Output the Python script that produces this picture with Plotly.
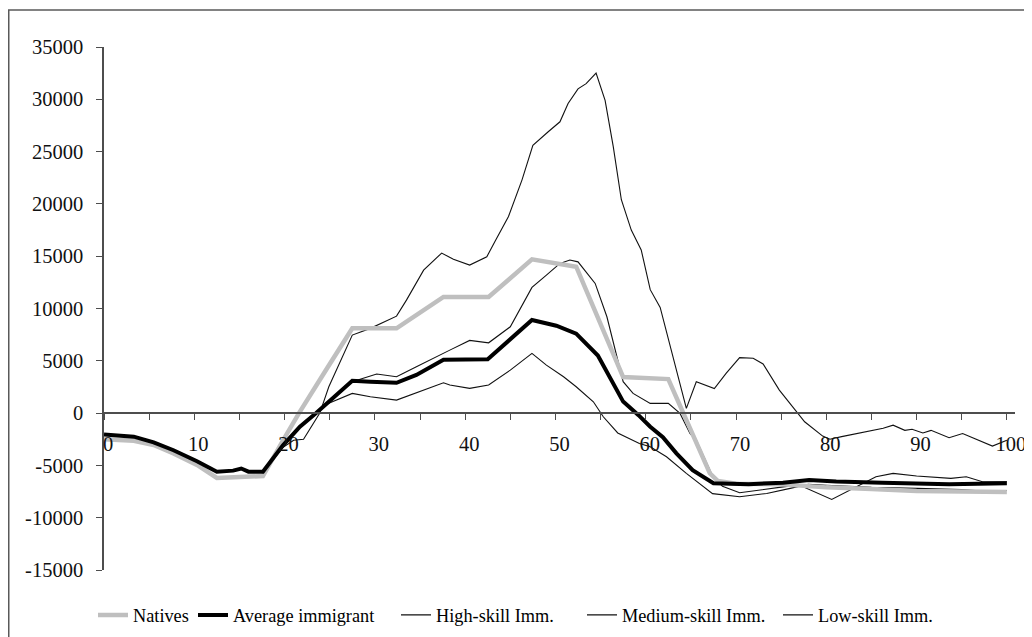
import plotly.graph_objects as go

# ---- data ----
x_child = [0, 3.3, 5.5, 7.7, 10.3, 12.5, 14.3, 15.2, 16, 17.6]
y_child = [-2050, -2250, -2800, -3550, -4600, -5600, -5500, -5300, -5600, -5600]

x_natives = [0, 3.3, 5.5, 7.7, 10.3, 12.5, 15, 17.6, 19.9, 21.6, 24.5, 27.5, 32.4, 37.6,
             42.6, 47.4, 52.3, 57.5, 62.5, 67.1, 68, 70, 75, 80, 85, 90, 95, 100]
y_natives = [-2500, -2650, -3050, -3850, -4950, -6200, -6100, -6020, -2500, 0, 4000, 8100,
             8100, 11100, 11100, 14700, 14000, 3450, 3250, -5750, -6500, -6750, -6800,
             -7100, -7250, -7450, -7500, -7550]

x_avg_tail = [19.8, 21.7, 23.5, 25.5, 27.5, 29.5, 32.4, 34.6, 37.6, 42.5, 47.4, 50.1, 52.3,
              54.7, 56.0, 57.5, 59.2, 60.5, 61.9, 63.4, 65.2, 66.7, 67.5, 71.4, 75.2, 78.1,
              81.1, 86.2, 93.6, 100]
y_avg_tail = [-3100, -1300, 0, 1500, 3100, 3000, 2900, 3650, 5100, 5150, 8900, 8350, 7600,
              5500, 3500, 1100, -200, -1300, -2300, -3850, -5450, -6250, -6700, -6800,
              -6650, -6400, -6550, -6650, -6800, -6700]

x_high_tail = [19.8, 21.0, 22.1, 23.9, 24.9, 27.5, 29.5, 31.3, 32.4, 33.5, 35.4, 37.4, 38.7,
               40.5, 42.4, 43.3, 44.8, 46.3, 47.5, 49.2, 50.5, 51.4, 52.5, 53.4, 54.5, 55.5,
               56.4, 57.3, 58.4, 59.5, 60.5, 61.6, 64.5, 65.6, 67.6, 68.9, 70.4, 71.9, 73.0,
               74.8, 76.7, 77.6, 79.6, 80.4, 81.7, 83.5, 85.0, 86.3, 87.4, 88.7, 89.5, 90.7,
               91.6, 93.6, 95.1, 96.6, 98.4, 100]
y_high_tail = [-3300, -2600, -2500, 0, 2520, 7460, 8100, 8830, 9270, 10800, 13670, 15300,
               14700, 14150, 14950, 16400, 18800, 22300, 25600, 26900, 27850, 29600, 31000,
               31500, 32500, 29900, 25500, 20400, 17500, 15600, 11800, 10100, 450, 3000,
               2350, 3800, 5300, 5250, 4700, 2200, 130, -830, -2200, -2500, -2250, -1950,
               -1650, -1450, -1150, -1650, -1550, -1900, -1650, -2350, -1950, -2500, -3150,
               -2600]

x_medium_tail = [19.8, 21.7, 23.5, 25.5, 27.5, 30.2, 32.4, 34.6, 37.6, 38.3, 40.5, 42.6, 45.0,
                 47.4, 49.0, 50.5, 51.6, 52.5, 54.4, 55.7, 57.5, 58.6, 60.5, 62.5, 63.8, 64.9,
                 65.6, 67.4, 68.5, 70.4, 75.2, 77.0, 80.6, 83.7, 85.5, 87.4, 90.0, 93.8, 95.5,
                 97.3, 100]
y_medium_tail = [-3100, -1300, 0, 1500, 3000, 3730, 3470, 4430, 5770, 6020, 6950, 6720, 8250,
                 12020, 13190, 14310, 14630, 14460, 12400, 9210, 3000, 1880, 930, 930, -30,
                 -1940, -2580, -6000, -7000, -7620, -7050, -6880, -8250, -6880, -6090, -5760,
                 -6020, -6240, -6090, -6570, -6570]

x_low_tail = [19.8, 21.7, 23.5, 24.9, 27.5, 29.5, 32.4, 35.0, 37.6, 38.3, 40.5, 42.6, 45.0,
              47.4, 49.0, 50.9, 52.3, 54.2, 55.3, 56.9, 59.3, 60.5, 62.3, 64.5, 67.4, 70.4,
              73.4, 76.0, 78.0, 80.0, 85.0, 90.0, 95.0, 98.0, 100]
y_low_tail = [-3100, -1300, 0, 950, 1880, 1560, 1240, 2040, 2900, 2680, 2360, 2680, 4110,
              5710, 4590, 3470, 2520, 1080, -350, -1900, -2900, -3220, -4180, -5760, -7700,
              -8000, -7680, -7200, -6800, -6900, -7100, -7200, -7300, -7500, -7400]

series_names = ["Natives", "Average immigrant", "High-skill Imm.", "Medium-skill Imm.",
                "Low-skill Imm."]

x_tickvals = list(range(0, 101, 5))
x_ticktext = ["0", "", "10", "", "20", "", "30", "", "40", "", "50", "", "60", "", "70", "",
              "80", "", "90", "", "100"]
y_tickvals = [35000, 30000, 25000, 20000, 15000, 10000, 5000, 0, -5000, -10000, -15000]
y_ticktext = ["35000", "30000", "25000", "20000", "15000", "10000", "5000", "0", "-5000",
              "-10000", "-15000"]

# ---- layout geometry (the page puts the figure 8 px in from the top-left) ----
OFF = 8
W, H = 1032 - OFF, 637 - OFF
ML, MT = 104 - OFF, 47 - OFF
MR = W - (1015 - OFF)
MB = H - (570 - OFF)
PW, PH = W - ML - MR, H - MT - MB


def px_x(px):
    return (px - OFF - ML) / PW


def px_y(py):
    return (H + OFF - MB - py) / PH


FONT = "Liberation Serif, Times New Roman, serif"

fig = go.Figure()

thin = dict(color="#111111", width=1.1)
fig.add_trace(go.Scatter(x=x_child + x_high_tail, y=y_child + y_high_tail, mode="lines",
                         name=series_names[2], line=thin, legend="legend3"))
fig.add_trace(go.Scatter(x=x_child + x_medium_tail, y=y_child + y_medium_tail, mode="lines",
                         name=series_names[3], line=thin, legend="legend4"))
fig.add_trace(go.Scatter(x=x_child + x_low_tail, y=y_child + y_low_tail, mode="lines",
                         name=series_names[4], line=thin, legend="legend5"))
fig.add_trace(go.Scatter(x=x_natives, y=y_natives, mode="lines", name=series_names[0],
                         line=dict(color="#BFBFBF", width=4.5), legend="legend"))
fig.add_trace(go.Scatter(x=x_child + x_avg_tail, y=y_child + y_avg_tail, mode="lines",
                         name=series_names[1], line=dict(color="#000000", width=4),
                         legend="legend2"))

leg_py = 615 - OFF
leg_starts = [85, 185, 388, 574, 770]
leg_common = dict(orientation="h", yanchor="middle", xanchor="left",
                  xref="container", yref="container", y=1 - leg_py / H,
                  font=dict(family=FONT, size=18.3, color="#000000"),
                  bgcolor="rgba(0,0,0,0)", borderwidth=0)

fig.update_layout(
    width=W, height=H,
    margin=dict(l=ML, r=MR, t=MT, b=MB, pad=0, autoexpand=False),
    paper_bgcolor="white", plot_bgcolor="white",
    showlegend=True,
    legend=dict(x=leg_starts[0] / W, **leg_common),
    legend2=dict(x=leg_starts[1] / W, **leg_common),
    legend3=dict(x=leg_starts[2] / W, **leg_common),
    legend4=dict(x=leg_starts[3] / W, **leg_common),
    legend5=dict(x=leg_starts[4] / W, **leg_common),
    xaxis=dict(range=[0, 100.9], anchor="free", position=0.3,
               tickvals=x_tickvals, ticktext=x_ticktext, ticks="outside", ticklen=6,
               tickwidth=1.3, tickcolor="#4d4d4d", showline=True, linecolor="#4d4d4d",
               linewidth=1.5, showgrid=False, zeroline=False, ticklabelstandoff=7,
               ticklabelshift=4, tickfont=dict(family=FONT, size=20.5, color="#111111")),
    yaxis=dict(range=[-15000, 35000], tickvals=y_tickvals, ticktext=y_ticktext,
               ticks="outside", ticklen=6, tickwidth=1.3, tickcolor="#4d4d4d",
               showline=True, linecolor="#4d4d4d", linewidth=1.5, showgrid=False,
               zeroline=False, ticklabelstandoff=9,
               tickfont=dict(family=FONT, size=20.5, color="#111111")),
    shapes=[dict(type="rect", xref="paper", yref="paper",
                 x0=px_x(OFF + 0.75), x1=px_x(1025), y0=px_y(650), y1=px_y(10),
                 line=dict(color="#595959", width=1.5), fillcolor="rgba(0,0,0,0)",
                 layer="below")],
)

fig.write_html("out.html")
